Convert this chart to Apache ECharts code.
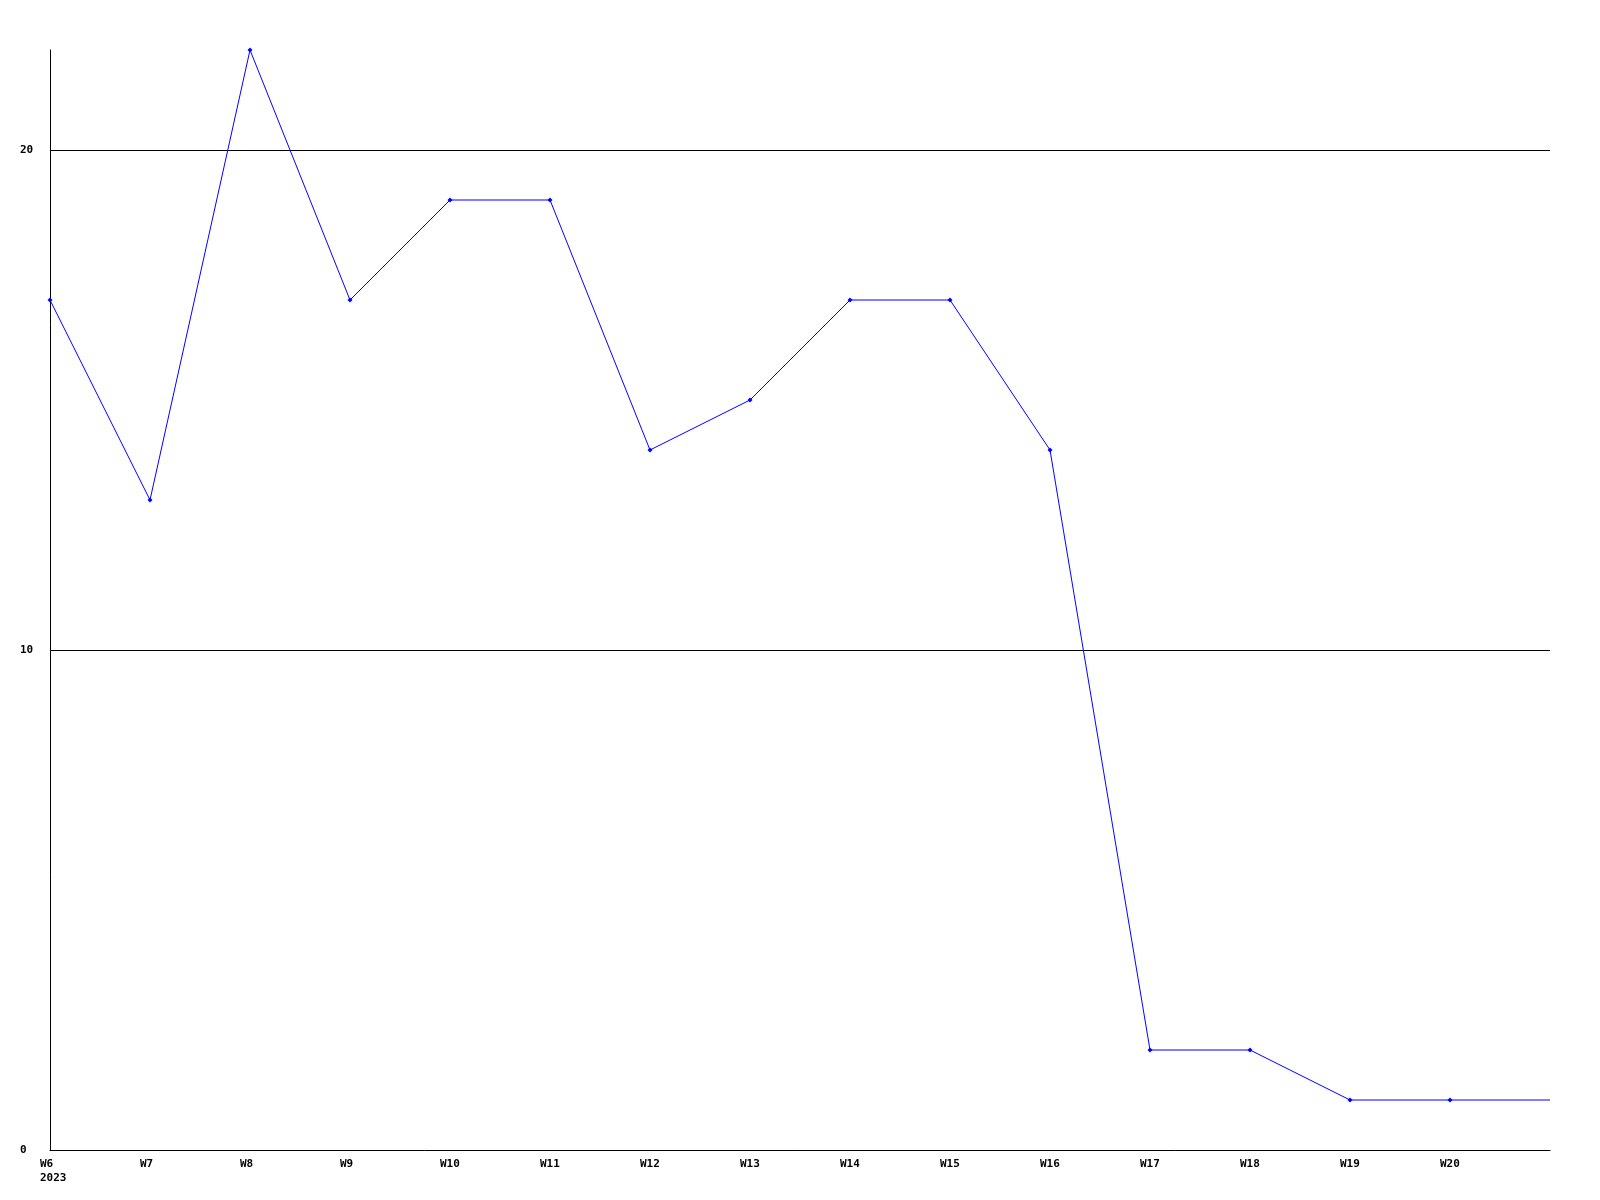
<!DOCTYPE html>
<html>
<head>
<meta charset="utf-8">
<script src="https://cdn.jsdelivr.net/npm/echarts@6/dist/echarts.min.js"></script>
<style>html,body{margin:0;padding:0;background:#fff}#c{width:1600px;height:1200px}</style>
</head>
<body>
<div id="c"></div>
<script>
var weeks = ['W6','W7','W8','W9','W10','W11','W12','W13','W14','W15','W16','W17','W18','W19','W20','W21'];
var values = [17,13,22,17,19,19,14,15,17,17,14,2,2,1,1,1];
var yearLabel = '2023';
var yTicks = [0, 10, 20];

var chart = echarts.init(document.getElementById('c'), null, {renderer:'canvas'});
var font = '"DejaVu Sans Mono", monospace';
var data = values.map(function(v, i){
  return i === values.length - 1 ? {value: v, symbol: 'none'} : v;
});
chart.setOption({
  animation: false,
  backgroundColor: '#ffffff',
  grid: {left: 50, right: 50, top: 50, bottom: 50, containLabel: false},
  xAxis: {
    type: 'category',
    data: weeks,
    boundaryGap: false,
    axisLine: {show: true, lineStyle: {color: '#000', width: 1}},
    axisTick: {show: false},
    splitLine: {show: false},
    axisLabel: {
      interval: 0,
      color: '#000',
      fontFamily: font,
      fontWeight: 'bold',
      fontSize: 11,
      align: 'left',
      padding: [0, 0, 0, -10],
      margin: 7,
      lineHeight: 14,
      formatter: function(v, i){
        if (i === weeks.length - 1) return '';
        return i === 0 ? v + '\n' + yearLabel : v;
      }
    }
  },
  yAxis: {
    type: 'value',
    min: yTicks[0],
    max: 22,
    interval: 10,
    axisLine: {show: true, lineStyle: {color: '#000', width: 1}},
    axisTick: {show: false},
    splitLine: {show: true, showMinLine: false, showMaxLine: false, lineStyle: {color: '#000', width: 1}},
    axisLabel: {
      color: '#000',
      fontFamily: font,
      fontWeight: 'bold',
      fontSize: 11,
      align: 'left',
      margin: 30,
      showMaxLabel: false
    }
  },
  series: [{
    type: 'line',
    data: data,
    symbol: 'diamond',
    symbolSize: 5,
    showAllSymbol: true,
    lineStyle: {color: '#0000ff', width: 1},
    itemStyle: {color: '#0000ff'}
  }]
});
</script>
</body>
</html>
